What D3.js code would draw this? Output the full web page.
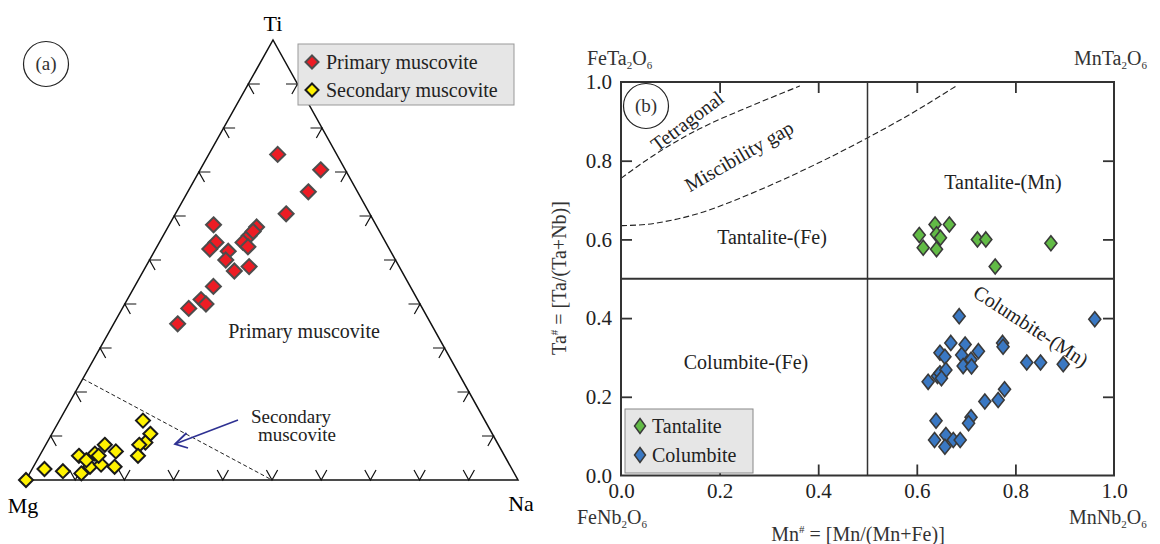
<!DOCTYPE html>
<html>
<head>
<meta charset="utf-8">
<script src="https://cdn.jsdelivr.net/npm/d3@7"></script>
<style>
  body { margin: 0; background: #fff; }
  svg { display: block; font-family: "Liberation Serif", "Times New Roman", serif; }
</style>
</head>
<body>
<svg id="chart" width="1160" height="544"></svg>
<script>
// ---- panel (a): ternary Ti - Mg - Na (percent) ----
const primaryTi = [74, 70.5, 65.5, 60.5, 58, 57.5, 55.5, 54, 54, 52.5, 53, 52, 50, 47.5, 48.5, 44, 41, 40, 39, 35.5, 56.5];
const primaryNa = [14, 24.5, 24.5, 22.5, 9, 18, 17.5, 11.5, 17, 11, 18.5, 15, 15.5, 18.5, 21, 16, 15, 16.5, 13.5, 13, 17.8];
const secondaryTi = [0, 2.5, 2, 5.5, 1.5, 6, 3, 3.5, 8, 5.5, 6.5, 3, 13.5, 10.5, 8.5, 8, 5.5, 4.5];
const secondaryNa = [0, 2.5, 6.5, 8, 10.5, 11, 11.5, 13.5, 12, 12, 15, 16.5, 17, 20, 20, 19, 20, 10];
const boundaryTi = [23, 0];
const boundaryNa = [0, 50];
const ternaryTicks = [10, 20, 30, 40, 50, 60, 70, 80, 90];

// ---- panel (b): Mn# vs Ta# ----
const tantaliteMn = [0.605, 0.637, 0.640, 0.648, 0.613, 0.640, 0.666, 0.723, 0.740, 0.872, 0.759];
const tantaliteTa = [0.611, 0.638, 0.613, 0.604, 0.579, 0.575, 0.638, 0.600, 0.600, 0.590, 0.531];
const columbiteMn = [0.686, 0.961, 0.669, 0.698, 0.647, 0.657, 0.691, 0.725, 0.710, 0.694, 0.711, 0.774, 0.775,
  0.823, 0.851, 0.897, 0.623, 0.642, 0.647, 0.659, 0.650, 0.778, 0.738, 0.765, 0.710, 0.705, 0.639,
  0.636, 0.659, 0.657, 0.674, 0.688];
const columbiteTa = [0.405, 0.397, 0.337, 0.333, 0.312, 0.302, 0.306, 0.316, 0.294, 0.278, 0.277, 0.337, 0.327,
  0.287, 0.287, 0.283, 0.238, 0.253, 0.260, 0.268, 0.247, 0.219, 0.188, 0.192, 0.148, 0.133, 0.139,
  0.090, 0.103, 0.073, 0.090, 0.090];
const tetragonalMn = [0, 0.05, 0.10, 0.15, 0.20, 0.25, 0.30, 0.363];
const tetragonalTa = [0.755, 0.80, 0.84, 0.875, 0.905, 0.932, 0.958, 0.99];
const gapMn = [0, 0.05, 0.10, 0.16, 0.22, 0.30, 0.40, 0.50, 0.60, 0.68];
const gapTa = [0.635, 0.638, 0.648, 0.667, 0.694, 0.736, 0.794, 0.858, 0.928, 0.990];
const tickValues = [0, 0.2, 0.4, 0.6, 0.8, 1.0];
const innerTicks = [0.2, 0.4, 0.6, 0.8];

const svg = d3.select('#chart');
svg.append('rect').attr('width', 1160).attr('height', 544).attr('fill', '#fff');

function diamond(w, h) {
  return `M0,${-h / 2}L${w / 2},0L0,${h / 2}L${-w / 2},0Z`;
}

// ================= ternary =================
const MG = [26, 480], NA = [518, 480], TI = [273, 40];
const tiScale = d3.scaleLinear().domain([0, 100]).range([0, 1]);

function project(ti, na) {
  const t = tiScale(ti), n = tiScale(na), m = 1 - t - n;
  return [MG[0] * m + NA[0] * n + TI[0] * t, MG[1] * m + NA[1] * n + TI[1] * t];
}

const ga = svg.append('g');

ga.append('path')
  .attr('d', `M${MG}L${NA}L${TI}Z`)
  .attr('fill', 'none')
  .attr('stroke', '#111')
  .attr('stroke-width', 1.5);

function unit(a, b) {
  const dx = b[0] - a[0], dy = b[1] - a[1], l = Math.hypot(dx, dy);
  return [dx / l, dy / l];
}
const armLen = 11.5;
const edges = [
  { from: MG, to: NA, arms: [unit(MG, TI), unit(NA, TI)] },
  { from: MG, to: TI, arms: [unit(MG, NA), unit(TI, NA)] },
  { from: NA, to: TI, arms: [unit(NA, MG), unit(TI, MG)] }
];
edges.forEach((e) => {
  ternaryTicks.forEach((v) => {
    const f = v / 100;
    const p = [e.from[0] + (e.to[0] - e.from[0]) * f, e.from[1] + (e.to[1] - e.from[1]) * f];
    const a1 = [p[0] + e.arms[0][0] * armLen, p[1] + e.arms[0][1] * armLen];
    const a2 = [p[0] + e.arms[1][0] * armLen, p[1] + e.arms[1][1] * armLen];
    ga.append('path')
      .attr('d', `M${a1}L${p}L${a2}`)
      .attr('fill', 'none')
      .attr('stroke', '#111')
      .attr('stroke-width', 1.2);
  });
});

// dashed boundary
ga.append('path')
  .attr('d', d3.line()(boundaryTi.map((t, i) => project(t, boundaryNa[i]))))
  .attr('fill', 'none')
  .attr('stroke', '#222')
  .attr('stroke-width', 1)
  .attr('stroke-dasharray', '4,2.5');

// blue arrow
const arrowFrom = [238, 420], arrowTo = [175, 444];
ga.append('line')
  .attr('x1', arrowFrom[0]).attr('y1', arrowFrom[1])
  .attr('x2', arrowTo[0]).attr('y2', arrowTo[1])
  .attr('stroke', '#2e3192').attr('stroke-width', 1.5);
ga.append('path')
  .attr('d', `M186.5,433L${arrowTo}L188,448`)
  .attr('fill', 'none').attr('stroke', '#2e3192').attr('stroke-width', 1.8);

// points
primaryTi.forEach((t, i) => {
  const [x, y] = project(t, primaryNa[i]);
  ga.append('path')
    .attr('d', diamond(15, 15))
    .attr('transform', `translate(${x},${y})`)
    .attr('fill', '#ed1c24')
    .attr('stroke', '#4d4d4d')
    .attr('stroke-width', 2);
});
secondaryTi.forEach((t, i) => {
  const [x, y] = project(t, secondaryNa[i]);
  ga.append('path')
    .attr('d', diamond(14, 14))
    .attr('transform', `translate(${x},${y})`)
    .attr('fill', '#fff200')
    .attr('stroke', '#1a1a1a')
    .attr('stroke-width', 2);
});

// labels
ga.append('text').attr('x', 273).attr('y', 31).attr('text-anchor', 'middle')
  .attr('font-size', 22).text('Ti');
ga.append('text').attr('x', 23).attr('y', 513).attr('text-anchor', 'middle')
  .attr('font-size', 22).text('Mg');
ga.append('text').attr('x', 521).attr('y', 511).attr('text-anchor', 'middle')
  .attr('font-size', 22).text('Na');
ga.append('text').attr('x', 304).attr('y', 338).attr('text-anchor', 'middle')
  .attr('font-size', 20).attr('fill', '#222').text('Primary muscovite');
ga.append('text').attr('x', 291).attr('y', 423).attr('text-anchor', 'middle')
  .attr('font-size', 19).attr('fill', '#222').text('Secondary');
ga.append('text').attr('x', 297).attr('y', 441).attr('text-anchor', 'middle')
  .attr('font-size', 19).attr('fill', '#222').text('muscovite');

ga.append('circle').attr('cx', 46).attr('cy', 64).attr('r', 22.5)
  .attr('fill', 'none').attr('stroke', '#222').attr('stroke-width', 1.2);
ga.append('text').attr('x', 46).attr('y', 70).attr('text-anchor', 'middle')
  .attr('font-size', 19).attr('fill', '#333').text('(a)');

// legend (a)
const legA = ga.append('g');
legA.append('rect').attr('x', 298).attr('y', 44).attr('width', 216).attr('height', 61)
  .attr('fill', '#e6e6e6').attr('stroke', '#999').attr('stroke-width', 1);
[['Primary muscovite', '#ed1c24', '#4d4d4d', 62], ['Secondary muscovite', '#fff200', '#1a1a1a', 90]]
  .forEach(([label, fill, stroke, y]) => {
    legA.append('path').attr('d', diamond(13, 13)).attr('transform', `translate(312,${y})`)
      .attr('fill', fill).attr('stroke', stroke).attr('stroke-width', 2);
    legA.append('text').attr('x', 326).attr('y', y + 7).attr('font-size', 20)
      .attr('fill', '#222').text(label);
  });

// ================= panel (b) =================
const x = d3.scaleLinear().domain([0, 1]).range([621, 1114]);
const y = d3.scaleLinear().domain([0, 1]).range([475.5, 82]);
const gb = svg.append('g');

// dashed curves
const curve = d3.line().x((d) => x(d[0])).y((d) => y(d[1])).curve(d3.curveMonotoneX);
[[tetragonalMn, tetragonalTa], [gapMn, gapTa]].forEach(([xs, ys]) => {
  gb.append('path')
    .attr('d', curve(xs.map((v, i) => [v, ys[i]])))
    .attr('fill', 'none')
    .attr('stroke', '#222')
    .attr('stroke-width', 1.1)
    .attr('stroke-dasharray', '6,3');
});

// quadrant lines
gb.append('line').attr('x1', x(0.5)).attr('x2', x(0.5)).attr('y1', y(0)).attr('y2', y(1))
  .attr('stroke', '#333').attr('stroke-width', 1.5);
gb.append('line').attr('x1', x(0)).attr('x2', x(1)).attr('y1', y(0.5)).attr('y2', y(0.5))
  .attr('stroke', '#333').attr('stroke-width', 1.8);

// inward ticks on four sides
const tickStyle = (g) => {
  g.select('.domain').remove();
  g.selectAll('.tick line').attr('stroke', '#333').attr('stroke-width', 1.8);
};
gb.append('g').attr('transform', `translate(${x(0)},0)`)
  .call(d3.axisLeft(y).tickValues(innerTicks).tickSize(-11).tickFormat('')).call(tickStyle);
gb.append('g').attr('transform', `translate(${x(1)},0)`)
  .call(d3.axisRight(y).tickValues(innerTicks).tickSize(-11).tickFormat('')).call(tickStyle);
gb.append('g').attr('transform', `translate(0,${y(1)})`)
  .call(d3.axisTop(x).tickValues(innerTicks).tickSize(-11).tickFormat('')).call(tickStyle);
gb.append('g').attr('transform', `translate(0,${y(0)})`)
  .call(d3.axisBottom(x).tickValues(innerTicks).tickSize(-11).tickFormat('')).call(tickStyle);

// tick labels
const labelStyle = (g) => {
  g.select('.domain').remove();
  g.selectAll('.tick line').remove();
  g.selectAll('.tick text').attr('font-family', '"Liberation Serif", "Times New Roman", serif')
    .attr('font-size', 21).attr('fill', '#222');
};
gb.append('g').attr('transform', `translate(${x(0)},0)`)
  .call(d3.axisLeft(y).tickValues(tickValues).tickSize(0).tickPadding(9).tickFormat(d3.format('.1f')))
  .call(labelStyle);
gb.append('g').attr('transform', `translate(0,${y(0)})`)
  .call(d3.axisBottom(x).tickValues(tickValues).tickSize(0).tickPadding(8).tickFormat(d3.format('.1f')))
  .call(labelStyle);

// frame
gb.append('rect').attr('x', x(0)).attr('y', y(1)).attr('width', x(1) - x(0)).attr('height', y(0) - y(1))
  .attr('fill', 'none').attr('stroke', '#333').attr('stroke-width', 2);

// formula labels with subscripts
function formula(xp, yp, parts) {
  const t = gb.append('text').attr('x', xp).attr('y', yp).attr('font-size', 20).attr('fill', '#333');
  let shifted = false;
  parts.forEach(([s, sub]) => {
    t.append('tspan')
      .attr('font-size', sub ? 11 : 20)
      .attr('dy', sub ? (shifted ? 0 : 4) : (shifted ? -4 : 0))
      .text(s);
    shifted = !!sub;
  });
  return t;
}
formula(587, 65, [['FeTa', 0], ['2', 1], ['O', 0], ['6', 1]]);
formula(1074, 65, [['MnTa', 0], ['2', 1], ['O', 0], ['6', 1]]);
formula(577, 524, [['FeNb', 0], ['2', 1], ['O', 0], ['6', 1]]);
formula(1069, 524, [['MnNb', 0], ['2', 1], ['O', 0], ['6', 1]]);

// axis titles
const xt = gb.append('text').attr('x', 858).attr('y', 541).attr('text-anchor', 'middle')
  .attr('font-size', 20).attr('fill', '#333');
xt.append('tspan').text('Mn');
xt.append('tspan').attr('font-size', 11).attr('dy', -8).text('#');
xt.append('tspan').attr('dy', 8).text(' = [Mn/(Mn+Fe)]');

const yt = gb.append('text').attr('transform', 'translate(566,278) rotate(-90)')
  .attr('text-anchor', 'middle').attr('font-size', 20).attr('fill', '#333');
yt.append('tspan').text('Ta');
yt.append('tspan').attr('font-size', 11).attr('dy', -8).text('#');
yt.append('tspan').attr('dy', 8).text(' = [Ta/(Ta+Nb)]');

// region labels
const region = (txt, cx, cy, angle) => gb.append('text')
  .attr('transform', `translate(${cx},${cy}) rotate(${angle || 0})`)
  .attr('text-anchor', 'middle').attr('dominant-baseline', 'central')
  .attr('font-size', 20).attr('fill', '#222').text(txt);
region('Tantalite-(Mn)', 1003, 182);
region('Tantalite-(Fe)', 772, 237);
region('Columbite-(Fe)', 746, 362);
region('Columbite-(Mn)', 1031, 326, 33);
region('Tetragonal', 687, 121, -37);
region('Miscibility gap', 739, 156, -30);

gb.append('circle').attr('cx', 646).attr('cy', 106).attr('r', 22.5)
  .attr('fill', 'none').attr('stroke', '#222').attr('stroke-width', 1.2);
gb.append('text').attr('x', 646).attr('y', 112).attr('text-anchor', 'middle')
  .attr('font-size', 19).attr('fill', '#333').text('(b)');

// points
tantaliteMn.forEach((v, i) => {
  gb.append('path').attr('d', diamond(12, 15))
    .attr('transform', `translate(${x(v)},${y(tantaliteTa[i])})`)
    .attr('fill', '#62bb46').attr('stroke', '#3a3a3a').attr('stroke-width', 1.6);
});
columbiteMn.forEach((v, i) => {
  gb.append('path').attr('d', diamond(12, 15))
    .attr('transform', `translate(${x(v)},${y(columbiteTa[i])})`)
    .attr('fill', '#3a78c3').attr('stroke', '#3a3a3a').attr('stroke-width', 1.6);
});

// legend (b)
const legB = gb.append('g');
legB.append('rect').attr('x', 625).attr('y', 409).attr('width', 128).attr('height', 64)
  .attr('fill', '#e6e6e6').attr('stroke', '#888').attr('stroke-width', 1);
[['Tantalite', '#62bb46', 426], ['Columbite', '#3a78c3', 455]].forEach(([label, fill, yy]) => {
  legB.append('path').attr('d', diamond(11, 15)).attr('transform', `translate(640,${yy})`)
    .attr('fill', fill).attr('stroke', '#3a3a3a').attr('stroke-width', 1.5);
  legB.append('text').attr('x', 652).attr('y', yy + 7).attr('font-size', 20)
    .attr('fill', '#222').text(label);
});
</script>
</body>
</html>
